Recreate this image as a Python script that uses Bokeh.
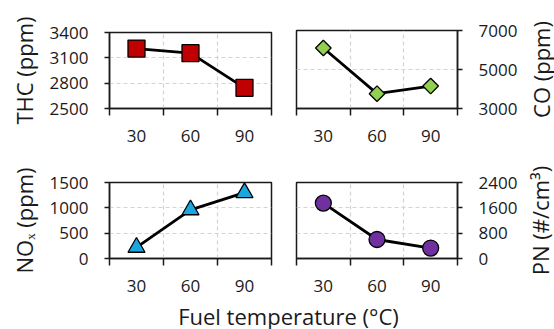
import math
from bokeh.plotting import figure
from bokeh.layouts import column, row
from bokeh.models import Range1d, FixedTicker, Label
from bokeh.embed import file_html
from bokeh.resources import INLINE

# ---- data ----
temps = [30, 60, 90]
thc = [3210, 3155, 2745]
co = [6100, 3760, 4150]
nox = [220, 960, 1300]
pn = [1750, 600, 330]

thc_ticks = [2500, 2800, 3100, 3400]
co_ticks = [3000, 5000, 7000]
nox_ticks = [0, 500, 1000, 1500]
pn_ticks = [0, 800, 1600, 2400]

FONT = "Open Sans"
TXT = "#1a1a1a"
XMIN, XMAX = 15, 105


def panel(width, height, bl, br, bt, bb, yticks, ylabel, side, xs, ys,
          marker, color, size, angle=0.0):
    p = figure(width=width, height=height, output_backend="svg",
               toolbar_location=None, tools="",
               x_range=Range1d(XMIN, XMAX),
               y_range=Range1d(yticks[0], yticks[-1]),
               y_axis_location=side, frame_align=False,
               min_border_left=bl, min_border_right=br,
               min_border_top=bt, min_border_bottom=bb)
    p.background_fill_color = "white"
    p.border_fill_color = "white"
    p.outline_line_color = "#1a1a1a"
    p.outline_line_width = 1.5

    xa = p.xaxis[0]
    xa.ticker = FixedTicker(ticks=temps, minor_ticks=[15, 45, 75, 105])
    xa.major_tick_out = 0
    xa.major_tick_in = 0
    xa.minor_tick_out = 7
    xa.minor_tick_in = 0
    xa.minor_tick_line_width = 1.5
    xa.minor_tick_line_color = "#1a1a1a"
    xa.axis_line_width = 1.5
    xa.axis_line_color = "#1a1a1a"
    xa.major_label_standoff = 14
    xa.major_label_text_font = FONT
    xa.major_label_text_font_size = "17px"
    xa.major_label_text_color = TXT

    ya = p.yaxis[0]
    ya.ticker = FixedTicker(ticks=yticks)
    ya.major_tick_out = 5
    ya.major_tick_in = 0
    ya.major_tick_line_width = 1.5
    ya.major_tick_line_color = "#1a1a1a"
    ya.minor_tick_line_color = None
    ya.axis_line_width = 1.5
    ya.axis_line_color = "#1a1a1a"
    ya.major_label_standoff = 16
    ya.major_label_text_font = FONT
    ya.major_label_text_font_size = "17px"
    ya.major_label_text_color = TXT

    if ylabel:
        ya.axis_label = ylabel
        ya.axis_label_text_font = FONT
        ya.axis_label_text_font_size = "22px"
        ya.axis_label_text_font_style = "normal"
        ya.axis_label_text_color = TXT
        ya.axis_label_standoff = 8

    p.xgrid.ticker = FixedTicker(ticks=[45, 75])
    p.ygrid.ticker = FixedTicker(ticks=yticks[1:-1])
    for g in (p.xgrid, p.ygrid):
        g.grid_line_color = "#d3d3d3"
        g.grid_line_dash = "4 3"
        g.grid_line_width = 1.2

    p.line(xs, ys, line_color="black", line_width=2.8)
    p.scatter(xs, ys, marker=marker, size=size, angle=angle,
              fill_color=color, line_color="black", line_width=1.3)
    return p


def text_strip(width, height, text, x, y, angle=0.0, size="22px"):
    f = figure(width=width, height=height, output_backend="svg",
               toolbar_location=None, tools="", frame_align=False,
               x_range=Range1d(0, width), y_range=Range1d(0, height),
               x_axis_type=None, y_axis_type=None, min_border=0)
    f.outline_line_color = None
    f.background_fill_color = "white"
    f.border_fill_color = "white"
    f.grid.visible = False
    f.add_layout(Label(x=x, y=y, text=text, angle=angle,
                       text_align="center", text_baseline="middle",
                       text_font=FONT, text_font_size=size, text_color=TXT))
    return f


tl = panel(283, 150, 109, 12, 32, 42, thc_ticks, "THC (ppm)", "left",
           temps, thc, "square", "#C00000", 17)
tr = panel(240, 150, 13, 66, 30, 42, co_ticks, None, "right",
           temps, co, "square", "#92D050", 11, math.pi / 4)
tr_lab = text_strip(31, 150, "CO (ppm)", 17, 81, math.pi / 2)

bl = panel(283, 150, 109, 12, 32, 42, nox_ticks, "NO\u2093 (ppm)", "left",
           temps, nox, "triangle", "#1CA6DF", 17)
br = panel(240, 150, 13, 66, 32, 42, pn_ticks, None, "right",
           temps, pn, "circle", "#7030A0", 16)
br_lab = text_strip(31, 150, "PN (#/cm\u00b3)", 16, 80, math.pi / 2)

bottom = text_strip(554, 29, "Fuel temperature (\u00b0C)", 288, 14)

layout = column(row(tl, tr, tr_lab), row(bl, br, br_lab), bottom)

open("out.html", "w").write(file_html(layout, INLINE))
